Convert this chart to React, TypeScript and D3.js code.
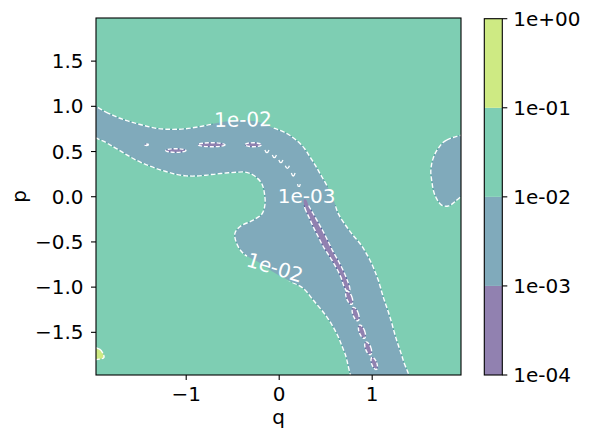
import React from "react";
import * as d3 from "d3";

// ---------- data ----------
const Q_DOMAIN = [-1.97, 1.955];
const P_DOMAIN = [-1.972, 1.977];
const Q_TICKS = [-1, 0, 1];
const P_TICKS = [-1.5, -1.0, -0.5, 0.0, 0.5, 1.0, 1.5];
const LEVELS = [1e-4, 1e-3, 1e-2, 1e-1, 1e0];
const LEVEL_LABELS = ["1e-04", "1e-03", "1e-02", "1e-01", "1e+00"];
const BACKGROUND_LEVEL = 2; // 1e-2 .. 1e-1

// band where value < 1e-2 (q, p)
const band1e2: [number, number][] = [
  [-2.1, 1.042], [-1.863, 0.937], [-1.755, 0.885], [-1.648, 0.845], [-1.54, 0.812],
  [-1.433, 0.782], [-1.325, 0.757], [-1.218, 0.747], [-1.111, 0.746], [-1.003, 0.752],
  [-0.896, 0.768], [-0.788, 0.788], [-0.681, 0.812], [-0.574, 0.832], [-0.466, 0.843],
  [-0.359, 0.845], [-0.251, 0.832], [-0.175, 0.81], [-0.1, 0.774], [-0.014, 0.743],
  [0.08, 0.701], [0.147, 0.655], [0.222, 0.591], [0.276, 0.528], [0.33, 0.442],
  [0.384, 0.356], [0.437, 0.259], [0.51, 0.129], [0.581, -0.025], [0.634, -0.184],
  [0.725, -0.332], [0.792, -0.424], [0.867, -0.515], [0.922, -0.601], [0.975, -0.7],
  [1.024, -0.811], [1.065, -0.921], [1.118, -1.106], [1.19, -1.327], [1.262, -1.585],
  [1.333, -1.806], [1.4, -2.1], [0.845, -2.1], [0.706, -1.732], [0.617, -1.511],
  [0.51, -1.327], [0.366, -1.143], [0.258, -1.013], [0.115, -0.933], [-0.046, -0.844],
  [-0.208, -0.733], [-0.387, -0.626], [-0.458, -0.515], [-0.476, -0.405], [-0.423, -0.332],
  [-0.28, -0.258], [-0.186, -0.191], [-0.154, -0.092], [-0.154, 0.0], [-0.189, 0.148],
  [-0.28, 0.24], [-0.369, 0.273], [-0.466, 0.27], [-0.573, 0.262], [-0.681, 0.251],
  [-0.788, 0.238], [-0.896, 0.229], [-1.003, 0.231], [-1.111, 0.248], [-1.218, 0.279],
  [-1.325, 0.314], [-1.433, 0.356], [-1.54, 0.406], [-1.648, 0.469], [-1.755, 0.535],
  [-1.863, 0.6], [-2.1, 0.74],
];

// blob at right edge where value < 1e-2
const rightBlob1e2: [number, number][] = [
  [2.1, 0.67], [1.8, 0.627], [1.71, 0.535], [1.656, 0.425], [1.631, 0.295],
  [1.639, 0.185], [1.674, 0.019], [1.746, -0.092], [1.817, -0.103], [1.889, -0.055],
  [2.1, 0.19],
];

// thin strip where value < 1e-3
const strip1e3: [number, number][] = [
  [0.266, -0.031], [0.276, -0.125], [0.319, -0.225], [0.362, -0.324], [0.416, -0.435],
  [0.47, -0.545], [0.545, -0.667], [0.61, -0.778], [0.663, -0.888], [0.696, -0.988],
  [0.728, -1.043], [0.76, -1.032], [0.739, -0.944], [0.696, -0.833], [0.642, -0.722],
  [0.577, -0.601], [0.524, -0.49], [0.47, -0.379], [0.416, -0.28], [0.362, -0.18],
  [0.319, -0.103], [0.287, -0.031],
];

// small islands < 1e-3: [q, p, half-width q, half-height p]
const stripIslands: [number, number, number, number][] = [
  [0.753, -1.117, 0.03, 0.078], [0.822, -1.298, 0.03, 0.078], [0.89, -1.493, 0.03, 0.078],
  [0.957, -1.677, 0.03, 0.075], [1.022, -1.844, 0.028, 0.07],
];
const rowIslands: [number, number, number, number][] = [
  [-1.426, 0.575, 0.02, 0.008], [-1.111, 0.511, 0.108, 0.02], [-0.727, 0.575, 0.145, 0.022],
  [-0.28, 0.575, 0.086, 0.022],
];
const hookIslands: [number, number, number, number][] = [
  [-0.132, 0.498, 0.022, 0.02], [-0.052, 0.442, 0.022, 0.02], [0.018, 0.387, 0.022, 0.02],
  [0.088, 0.323, 0.022, 0.02], [0.151, 0.24, 0.02, 0.022], [0.212, 0.118, 0.015, 0.022],
];

// tiny region > 1e-1 at bottom-left
const yellowBlob: [number, number][] = [
  [-2.1, -1.66], [-1.928, -1.689], [-1.896, -1.734], [-1.885, -1.778], [-1.928, -1.795], [-2.1, -1.8],
];

const CONTOUR_LABELS = [
  { text: "1e-02", q: -0.39, p: 0.854, angle: -1 },
  { text: "1e-03", q: 0.295, p: 0.008, angle: 0 },
  { text: "1e-02", q: -0.046, p: -0.783, angle: 17 },
];

// ---------- layout ----------
const W = 591;
const H = 440;
const PLOT = { left: 96, right: 461, top: 18, bottom: 375 };
const CBAR = { left: 484.3, right: 502.3, top: 18.7, bottom: 375 };
const FONT = "'DejaVu Sans', 'Liberation Sans', sans-serif";
const FS = 20;

const fmtP = (v: number) => v.toFixed(1).replace("-", "\u2212");
const fmtQ = (v: number) => String(v).replace("-", "\u2212");

export default function App() {
  const x = d3.scaleLinear().domain(Q_DOMAIN).range([PLOT.left, PLOT.right]);
  const y = d3.scaleLinear().domain(P_DOMAIN).range([PLOT.bottom, PLOT.top]);
  const c = d3
    .scaleLog()
    .domain([LEVELS[0], LEVELS[LEVELS.length - 1]])
    .range([CBAR.bottom, CBAR.top]);
  const nBands = LEVELS.length - 1;
  const bandColor = (i: number) =>
    d3.interpolateRgb("#ffffff", d3.interpolateViridis((i + 0.5) / nBands))(0.6);

  const line = d3
    .line<[number, number]>()
    .x((d) => x(d[0]))
    .y((d) => y(d[1]))
    .curve(d3.curveCatmullRomClosed.alpha(0.5));

  const regions = [
    { pts: band1e2, level: 1, edge: "#4f9fa0" },
    { pts: rightBlob1e2, level: 1, edge: "#4f9fa0" },
    { pts: strip1e3, level: 0, edge: "#4e5f9c" },
    { pts: yellowBlob, level: 3, edge: "#a8d890" },
  ];

  const islands = [
    ...stripIslands.map((d) => ({ d, rot: -20, fill: bandColor(0) })),
    ...rowIslands.map((d) => ({ d, rot: 0, fill: bandColor(0) })),
  ];

  const dash = "4.8 2.1";

  return (
    <svg
      width={W}
      height={H}
      style={{ position: "absolute", left: 0, top: 0, background: "#fff" }}
      fontFamily={FONT}
    >
      <defs>
        <clipPath id="plotClip">
          <rect x={PLOT.left} y={PLOT.top} width={PLOT.right - PLOT.left} height={PLOT.bottom - PLOT.top} />
        </clipPath>
        <mask id="labelMask" maskUnits="userSpaceOnUse" x={0} y={0} width={W} height={H}>
          <rect x={0} y={0} width={W} height={H} fill="#fff" />
          {CONTOUR_LABELS.map((l, i) => (
            <rect
              key={i}
              x={-30}
              y={-9}
              width={60}
              height={18}
              fill="#000"
              transform={`translate(${x(l.q)},${y(l.p)}) rotate(${l.angle})`}
            />
          ))}
        </mask>
      </defs>

      <g clipPath="url(#plotClip)">
        <rect
          x={PLOT.left}
          y={PLOT.top}
          width={PLOT.right - PLOT.left}
          height={PLOT.bottom - PLOT.top}
          fill={bandColor(BACKGROUND_LEVEL)}
        />
        {regions.map((r, i) => (
          <path key={i} d={line(r.pts) || ""} fill={bandColor(r.level)} />
        ))}
        {islands.map((it, i) => {
          const [q, p, rq, rp] = it.d;
          return (
            <ellipse
              key={"is" + i}
              cx={x(q)}
              cy={y(p)}
              rx={x(q + rq) - x(q)}
              ry={y(p) - y(p + rp)}
              transform={`rotate(${it.rot},${x(q)},${y(p)})`}
              fill={it.fill}
              stroke="#5a6aa0"
              strokeWidth={0.8}
            />
          );
        })}
        <g mask="url(#labelMask)">
          {regions.map((r, i) => (
            <g key={"l" + i}>
              <path d={line(r.pts) || ""} fill="none" stroke={r.edge} strokeWidth={0.9} />
              <path d={line(r.pts) || ""} fill="none" stroke="#fff" strokeWidth={1.4} strokeDasharray={dash} />
            </g>
          ))}
          {islands.map((it, i) => {
            const [q, p, rq, rp] = it.d;
            return (
              <ellipse
                key={"il" + i}
                cx={x(q)}
                cy={y(p)}
                rx={x(q + rq) - x(q)}
                ry={y(p) - y(p + rp)}
                transform={`rotate(${it.rot},${x(q)},${y(p)})`}
                fill="none"
                stroke="#fff"
                strokeWidth={1.4}
                strokeDasharray="4 1.8"
              />
            );
          })}
          {hookIslands.map(([q, p, rq, rp], i) => (
            <path
              key={"h" + i}
              d={`M${x(q - rq)},${y(p + rp)} Q${x(q)},${y(p - rp * 2)} ${x(q + rq)},${y(p + rp)}`}
              fill="none"
              stroke="#fff"
              strokeWidth={1.3}
            />
          ))}
        </g>
        {CONTOUR_LABELS.map((l, i) => (
          <text
            key={"t" + i}
            transform={`translate(${x(l.q)},${y(l.p)}) rotate(${l.angle})`}
            textAnchor="middle"
            dominantBaseline="central"
            fontSize={FS}
            fill="#fff"
          >
            {l.text}
          </text>
        ))}
      </g>

      {/* axes frame */}
      <rect
        x={PLOT.left}
        y={PLOT.top}
        width={PLOT.right - PLOT.left}
        height={PLOT.bottom - PLOT.top}
        fill="none"
        stroke="#000"
        strokeWidth={1.1}
      />

      {/* x axis */}
      {Q_TICKS.map((t) => (
        <g key={"xt" + t} transform={`translate(${x(t)},${PLOT.bottom})`}>
          <line y1={0} y2={5} stroke="#000" strokeWidth={1.1} />
          <text y={25.7} textAnchor="middle" fontSize={FS} fill="#000">
            {fmtQ(t)}
          </text>
        </g>
      ))}
      <text x={(PLOT.left + PLOT.right) / 2} y={424} textAnchor="middle" fontSize={FS} fill="#000">
        q
      </text>

      {/* y axis */}
      {P_TICKS.map((t) => (
        <g key={"yt" + t} transform={`translate(${PLOT.left},${y(t)})`}>
          <line x1={0} x2={-5} stroke="#000" strokeWidth={1.1} />
          <text x={-12.5} textAnchor="end" dominantBaseline="central" fontSize={FS} fill="#000">
            {fmtP(t)}
          </text>
        </g>
      ))}
      <text
        transform={`translate(26,${(PLOT.top + PLOT.bottom) / 2}) rotate(-90)`}
        textAnchor="middle"
        fontSize={FS}
        fill="#000"
      >
        p
      </text>

      {/* colorbar */}
      {LEVELS.slice(0, -1).map((lv, i) => (
        <rect
          key={"cb" + i}
          x={CBAR.left}
          y={c(LEVELS[i + 1])}
          width={CBAR.right - CBAR.left}
          height={c(lv) - c(LEVELS[i + 1])}
          fill={bandColor(i)}
        />
      ))}
      <rect
        x={CBAR.left}
        y={CBAR.top}
        width={CBAR.right - CBAR.left}
        height={CBAR.bottom - CBAR.top}
        fill="none"
        stroke="#000"
        strokeWidth={1.1}
      />
      {LEVELS.map((lv, i) => (
        <g key={"ct" + i} transform={`translate(${CBAR.right},${c(lv)})`}>
          <line x1={0} x2={5} stroke="#000" strokeWidth={1.1} />
          <text x={11} dominantBaseline="central" fontSize={FS} fill="#000">
            {LEVEL_LABELS[i]}
          </text>
        </g>
      ))}
    </svg>
  );
}
